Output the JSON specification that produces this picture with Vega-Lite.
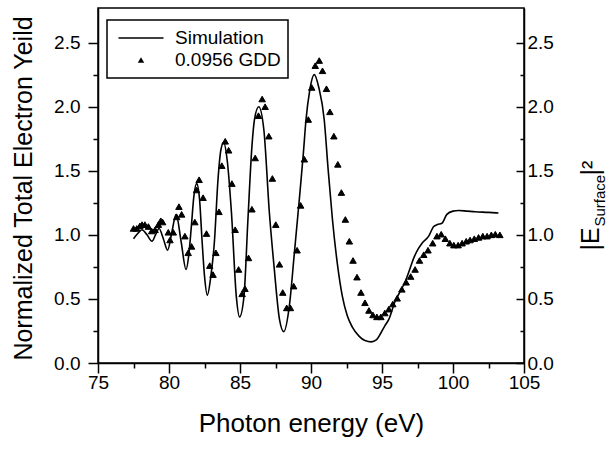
{
  "$schema": "https://vega.github.io/schema/vega-lite/v6.json",
  "width": 426,
  "height": 355,
  "autosize": {"type": "none"},
  "padding": {"left": 98, "top": 8, "right": 91, "bottom": 87},
  "background": "white",
  "config": {
    "font": "Liberation Sans",
    "view": {"stroke": "black", "strokeWidth": 1.5},
    "legend": {"strokeWidth": 1.5},
    "axis": {
      "domainColor": "black", "domainWidth": 1.5,
      "tickColor": "black", "tickWidth": 1.5,
      "labelColor": "black", "labelFont": "Liberation Sans", "labelFontSize": 19,
      "titleFont": "Liberation Sans", "titleFontSize": 25, "titleFontWeight": "normal", "titleColor": "black",
      "grid": false, "labelFlush": false, "labelOverlap": false
    }
  },
  "datasets": {
    "sim": [
      {"energy": 77.5, "value": 0.97}, {"energy": 77.8, "value": 1.01}, {"energy": 78.1, "value": 1.04},
      {"energy": 78.45, "value": 1.0}, {"energy": 78.8, "value": 0.95}, {"energy": 79.05, "value": 1.0},
      {"energy": 79.3, "value": 1.05}, {"energy": 79.6, "value": 0.97}, {"energy": 79.9, "value": 0.88},
      {"energy": 80.2, "value": 1.02}, {"energy": 80.5, "value": 1.16}, {"energy": 80.85, "value": 0.95},
      {"energy": 81.2, "value": 0.73}, {"energy": 81.4, "value": 0.85}, {"energy": 81.57, "value": 1.06},
      {"energy": 81.75, "value": 1.3}, {"energy": 81.95, "value": 1.4}, {"energy": 82.15, "value": 1.28},
      {"energy": 82.32, "value": 0.97}, {"energy": 82.5, "value": 0.68}, {"energy": 82.7, "value": 0.53},
      {"energy": 82.95, "value": 0.68}, {"energy": 83.2, "value": 0.95}, {"energy": 83.45, "value": 1.43},
      {"energy": 83.65, "value": 1.66}, {"energy": 83.85, "value": 1.72}, {"energy": 84.1, "value": 1.58},
      {"energy": 84.4, "value": 1.17}, {"energy": 84.74, "value": 0.52}, {"energy": 84.97, "value": 0.36},
      {"energy": 85.28, "value": 0.52}, {"energy": 85.55, "value": 1.1}, {"energy": 85.84, "value": 1.69},
      {"energy": 86.02, "value": 1.9}, {"energy": 86.32, "value": 2.0}, {"energy": 86.68, "value": 1.82},
      {"energy": 87.07, "value": 1.17}, {"energy": 87.4, "value": 0.75}, {"energy": 87.78, "value": 0.34},
      {"energy": 88.08, "value": 0.245}, {"energy": 88.48, "value": 0.45}, {"energy": 88.83, "value": 0.86},
      {"energy": 89.18, "value": 1.28}, {"energy": 89.45, "value": 1.62}, {"energy": 89.65, "value": 1.9},
      {"energy": 89.9, "value": 2.12}, {"energy": 90.23, "value": 2.25}, {"energy": 90.55, "value": 2.15},
      {"energy": 90.93, "value": 1.9}, {"energy": 91.2, "value": 1.52}, {"energy": 91.51, "value": 1.12},
      {"energy": 91.85, "value": 0.78}, {"energy": 92.21, "value": 0.52}, {"energy": 92.55, "value": 0.37},
      {"energy": 92.91, "value": 0.28}, {"energy": 93.38, "value": 0.21}, {"energy": 93.8, "value": 0.175},
      {"energy": 94.25, "value": 0.165}, {"energy": 94.6, "value": 0.18}, {"energy": 94.9, "value": 0.23},
      {"energy": 95.2, "value": 0.29}, {"energy": 95.48, "value": 0.34}, {"energy": 95.95, "value": 0.49},
      {"energy": 96.3, "value": 0.56}, {"energy": 96.65, "value": 0.64}, {"energy": 96.95, "value": 0.73},
      {"energy": 97.24, "value": 0.82}, {"energy": 97.55, "value": 0.89}, {"energy": 97.82, "value": 0.935},
      {"energy": 98.29, "value": 0.99}, {"energy": 98.64, "value": 1.065}, {"energy": 98.9, "value": 1.08},
      {"energy": 99.22, "value": 1.09}, {"energy": 99.57, "value": 1.16}, {"energy": 100.0, "value": 1.185},
      {"energy": 100.4, "value": 1.19}, {"energy": 101.0, "value": 1.185}, {"energy": 101.56, "value": 1.18},
      {"energy": 102.5, "value": 1.175}, {"energy": 103.2, "value": 1.17}
    ],
    "gdd": [
      {"energy": 77.5, "value": 1.05, "series": "0.0956 GDD"}, {"energy": 77.73, "value": 1.05, "series": "0.0956 GDD"},
      {"energy": 77.95, "value": 1.07, "series": "0.0956 GDD"}, {"energy": 78.1, "value": 1.08, "series": "0.0956 GDD"},
      {"energy": 78.3, "value": 1.08, "series": "0.0956 GDD"}, {"energy": 78.55, "value": 1.065, "series": "0.0956 GDD"},
      {"energy": 78.78, "value": 1.03, "series": "0.0956 GDD"}, {"energy": 79.02, "value": 1.04, "series": "0.0956 GDD"},
      {"energy": 79.25, "value": 1.08, "series": "0.0956 GDD"}, {"energy": 79.42, "value": 1.11, "series": "0.0956 GDD"},
      {"energy": 79.55, "value": 1.1, "series": "0.0956 GDD"}, {"energy": 79.95, "value": 1.02, "series": "0.0956 GDD"},
      {"energy": 80.07, "value": 0.96, "series": "0.0956 GDD"}, {"energy": 80.3, "value": 1.02, "series": "0.0956 GDD"},
      {"energy": 80.54, "value": 1.14, "series": "0.0956 GDD"}, {"energy": 80.7, "value": 1.22, "series": "0.0956 GDD"},
      {"energy": 80.89, "value": 1.16, "series": "0.0956 GDD"}, {"energy": 81.12, "value": 0.99, "series": "0.0956 GDD"},
      {"energy": 81.35, "value": 0.86, "series": "0.0956 GDD"}, {"energy": 81.59, "value": 0.91, "series": "0.0956 GDD"},
      {"energy": 81.82, "value": 1.1, "series": "0.0956 GDD"}, {"energy": 81.94, "value": 1.35, "series": "0.0956 GDD"},
      {"energy": 82.12, "value": 1.43, "series": "0.0956 GDD"}, {"energy": 82.4, "value": 1.29, "series": "0.0956 GDD"},
      {"energy": 82.64, "value": 1.01, "series": "0.0956 GDD"}, {"energy": 82.87, "value": 0.76, "series": "0.0956 GDD"},
      {"energy": 83.1, "value": 0.69, "series": "0.0956 GDD"}, {"energy": 83.3, "value": 0.86, "series": "0.0956 GDD"},
      {"energy": 83.52, "value": 1.18, "series": "0.0956 GDD"}, {"energy": 83.72, "value": 1.54, "series": "0.0956 GDD"},
      {"energy": 83.96, "value": 1.73, "series": "0.0956 GDD"}, {"energy": 84.2, "value": 1.66, "series": "0.0956 GDD"},
      {"energy": 84.43, "value": 1.4, "series": "0.0956 GDD"}, {"energy": 84.66, "value": 1.04, "series": "0.0956 GDD"},
      {"energy": 84.9, "value": 0.73, "series": "0.0956 GDD"}, {"energy": 85.15, "value": 0.54, "series": "0.0956 GDD"},
      {"energy": 85.35, "value": 0.58, "series": "0.0956 GDD"}, {"energy": 85.6, "value": 0.82, "series": "0.0956 GDD"},
      {"energy": 85.84, "value": 1.2, "series": "0.0956 GDD"}, {"energy": 86.07, "value": 1.6, "series": "0.0956 GDD"},
      {"energy": 86.3, "value": 1.93, "series": "0.0956 GDD"}, {"energy": 86.56, "value": 2.06, "series": "0.0956 GDD"},
      {"energy": 86.77, "value": 2.0, "series": "0.0956 GDD"}, {"energy": 87.03, "value": 1.77, "series": "0.0956 GDD"},
      {"energy": 87.28, "value": 1.44, "series": "0.0956 GDD"}, {"energy": 87.52, "value": 1.08, "series": "0.0956 GDD"},
      {"energy": 87.78, "value": 0.77, "series": "0.0956 GDD"}, {"energy": 88.01, "value": 0.55, "series": "0.0956 GDD"},
      {"energy": 88.29, "value": 0.43, "series": "0.0956 GDD"}, {"energy": 88.55, "value": 0.43, "series": "0.0956 GDD"},
      {"energy": 88.78, "value": 0.6, "series": "0.0956 GDD"}, {"energy": 89.02, "value": 0.88, "series": "0.0956 GDD"},
      {"energy": 89.27, "value": 1.23, "series": "0.0956 GDD"}, {"energy": 89.53, "value": 1.59, "series": "0.0956 GDD"},
      {"energy": 89.81, "value": 1.9, "series": "0.0956 GDD"}, {"energy": 90.05, "value": 2.15, "series": "0.0956 GDD"},
      {"energy": 90.3, "value": 2.32, "series": "0.0956 GDD"}, {"energy": 90.58, "value": 2.36, "series": "0.0956 GDD"},
      {"energy": 90.81, "value": 2.28, "series": "0.0956 GDD"}, {"energy": 91.09, "value": 2.14, "series": "0.0956 GDD"},
      {"energy": 91.33, "value": 1.96, "series": "0.0956 GDD"}, {"energy": 91.61, "value": 1.77, "series": "0.0956 GDD"},
      {"energy": 91.89, "value": 1.55, "series": "0.0956 GDD"}, {"energy": 92.14, "value": 1.33, "series": "0.0956 GDD"},
      {"energy": 92.42, "value": 1.12, "series": "0.0956 GDD"}, {"energy": 92.7, "value": 0.95, "series": "0.0956 GDD"},
      {"energy": 92.96, "value": 0.8, "series": "0.0956 GDD"}, {"energy": 93.24, "value": 0.67, "series": "0.0956 GDD"},
      {"energy": 93.52, "value": 0.55, "series": "0.0956 GDD"}, {"energy": 93.8, "value": 0.47, "series": "0.0956 GDD"},
      {"energy": 94.08, "value": 0.41, "series": "0.0956 GDD"}, {"energy": 94.36, "value": 0.375, "series": "0.0956 GDD"},
      {"energy": 94.64, "value": 0.36, "series": "0.0956 GDD"}, {"energy": 94.92, "value": 0.36, "series": "0.0956 GDD"},
      {"energy": 95.2, "value": 0.39, "series": "0.0956 GDD"}, {"energy": 95.48, "value": 0.42, "series": "0.0956 GDD"},
      {"energy": 95.76, "value": 0.46, "series": "0.0956 GDD"}, {"energy": 96.07, "value": 0.505, "series": "0.0956 GDD"},
      {"energy": 96.4, "value": 0.575, "series": "0.0956 GDD"}, {"energy": 96.7, "value": 0.63, "series": "0.0956 GDD"},
      {"energy": 97.02, "value": 0.675, "series": "0.0956 GDD"}, {"energy": 97.33, "value": 0.73, "series": "0.0956 GDD"},
      {"energy": 97.64, "value": 0.8, "series": "0.0956 GDD"}, {"energy": 97.94, "value": 0.845, "series": "0.0956 GDD"},
      {"energy": 98.24, "value": 0.88, "series": "0.0956 GDD"}, {"energy": 98.57, "value": 0.935, "series": "0.0956 GDD"},
      {"energy": 98.87, "value": 0.99, "series": "0.0956 GDD"}, {"energy": 99.17, "value": 1.005, "series": "0.0956 GDD"},
      {"energy": 99.46, "value": 0.97, "series": "0.0956 GDD"}, {"energy": 99.78, "value": 0.935, "series": "0.0956 GDD"},
      {"energy": 100.06, "value": 0.92, "series": "0.0956 GDD"}, {"energy": 100.36, "value": 0.92, "series": "0.0956 GDD"},
      {"energy": 100.64, "value": 0.935, "series": "0.0956 GDD"}, {"energy": 100.93, "value": 0.95, "series": "0.0956 GDD"},
      {"energy": 101.2, "value": 0.96, "series": "0.0956 GDD"}, {"energy": 101.5, "value": 0.97, "series": "0.0956 GDD"},
      {"energy": 101.8, "value": 0.98, "series": "0.0956 GDD"}, {"energy": 102.1, "value": 0.99, "series": "0.0956 GDD"},
      {"energy": 102.4, "value": 0.99, "series": "0.0956 GDD"}, {"energy": 102.7, "value": 1.0, "series": "0.0956 GDD"},
      {"energy": 102.98, "value": 1.005, "series": "0.0956 GDD"}, {"energy": 103.3, "value": 1.0, "series": "0.0956 GDD"}
    ]
  },
  "layer": [
    {
      "data": {"name": "sim"},
      "mark": {"type": "line", "color": "black", "strokeWidth": 1.6, "interpolate": "monotone"},
      "encoding": {
        "x": {"field": "energy", "type": "quantitative",
              "scale": {"domain": [75, 105], "nice": false, "zero": false},
              "axis": {"orient": "bottom", "values": [75, 80, 85, 90, 95, 100, 105], "tickSize": 10, "labelPadding": 0,
                       "title": "Photon energy (eV)", "titleFontSize": 26, "titlePadding": 18}},
        "y": {"field": "value", "type": "quantitative",
              "scale": {"domain": [0, 2.77], "nice": false, "zero": false},
              "axis": {"orient": "left", "values": [0, 0.5, 1, 1.5, 2, 2.5], "format": ".1f", "tickSize": 10, "labelPadding": 8,
                       "title": "Normalized Total Electron Yeild", "titleAngle": -90, "titleAlign": "center",
                       "titleBaseline": "alphabetic", "titleX": -67, "titleY": 180}}
      }
    },
    {
      "data": {"name": "gdd"},
      "mark": {"type": "point", "filled": true, "fill": "black", "stroke": "black", "strokeWidth": 1, "opacity": 1},
      "encoding": {
        "x": {"field": "energy", "type": "quantitative",
              "axis": {"orient": "bottom", "values": [77.5, 82.5, 87.5, 92.5, 97.5, 102.5], "tickSize": 5, "labels": false, "domain": false, "title": null}},
        "y": {"field": "value", "type": "quantitative",
              "axis": {"orient": "right", "values": [0, 0.5, 1, 1.5, 2, 2.5], "format": ".1f", "tickSize": -8, "labelPadding": 11,
                       "title": "|E", "titleAngle": -90, "titleAlign": "left", "titleBaseline": "alphabetic", "titleX": 74, "titleY": 242}},
        "shape": {"field": "series", "type": "nominal",
                  "scale": {"domain": ["Simulation", "0.0956 GDD"], "range": ["M-1,-0.036H1V0.036H-1Z", "triangle-up"]},
                  "legend": {"title": null, "orient": "none", "legendX": 9, "legendY": 12, "strokeColor": "black",
                             "fillColor": "white", "padding": 7, "clipHeight": 22, "rowPadding": 0, "labelFontSize": 19,
                             "labelFont": "Liberation Sans", "labelColor": "black", "labelOffset": 11, "symbolOffset": 4,
                             "symbolStrokeColor": "black", "symbolStrokeWidth": 0.5, "symbolFillColor": "black"}},
        "size": {"field": "series", "type": "nominal",
                 "scale": {"type": "point", "domain": ["Simulation", "0.0956 GDD"], "range": [2025, 42], "padding": 0},
                 "legend": {"title": null, "orient": "none", "legendX": 9, "legendY": 12, "strokeColor": "black",
                            "fillColor": "white", "padding": 7, "clipHeight": 22, "rowPadding": 0, "labelFontSize": 19,
                            "labelFont": "Liberation Sans", "labelColor": "black", "labelOffset": 11, "symbolOffset": 4,
                            "symbolStrokeColor": "black", "symbolStrokeWidth": 0.5, "symbolFillColor": "black"}}
      }
    },
    {
      "data": {"name": "gdd"},
      "mark": {"type": "point", "opacity": 0},
      "encoding": {
        "x": {"field": "energy", "type": "quantitative", "axis": null},
        "y": {"field": "value", "type": "quantitative",
              "axis": {"orient": "left", "values": [0.25, 0.75, 1.25, 1.75, 2.25], "tickSize": 5, "labels": false, "domain": false, "title": null}}
      }
    },
    {
      "data": {"name": "gdd"},
      "mark": {"type": "point", "opacity": 0},
      "encoding": {
        "x": {"field": "energy", "type": "quantitative", "axis": null},
        "y": {"field": "value", "type": "quantitative",
              "axis": {"orient": "right", "values": [0.25, 0.75, 1.25, 1.75, 2.25], "tickSize": -4, "labels": false, "domain": false,
                       "title": "Surface", "titleFontSize": 15, "titleAngle": -90, "titleAlign": "left", "titleBaseline": "alphabetic", "titleX": 80, "titleY": 218}}
      }
    },
    {
      "data": {"name": "gdd"},
      "mark": {"type": "point", "opacity": 0},
      "encoding": {
        "x": {"field": "energy", "type": "quantitative", "axis": null},
        "y": {"field": "value", "type": "quantitative",
              "axis": {"orient": "right", "ticks": false, "labels": false, "domain": false,
                       "title": "|²", "titleAngle": -90, "titleAlign": "left", "titleBaseline": "alphabetic", "titleX": 74, "titleY": 167}}
      }
    }
  ],
  "resolve": {"axis": {"x": "independent", "y": "independent"}}
}
